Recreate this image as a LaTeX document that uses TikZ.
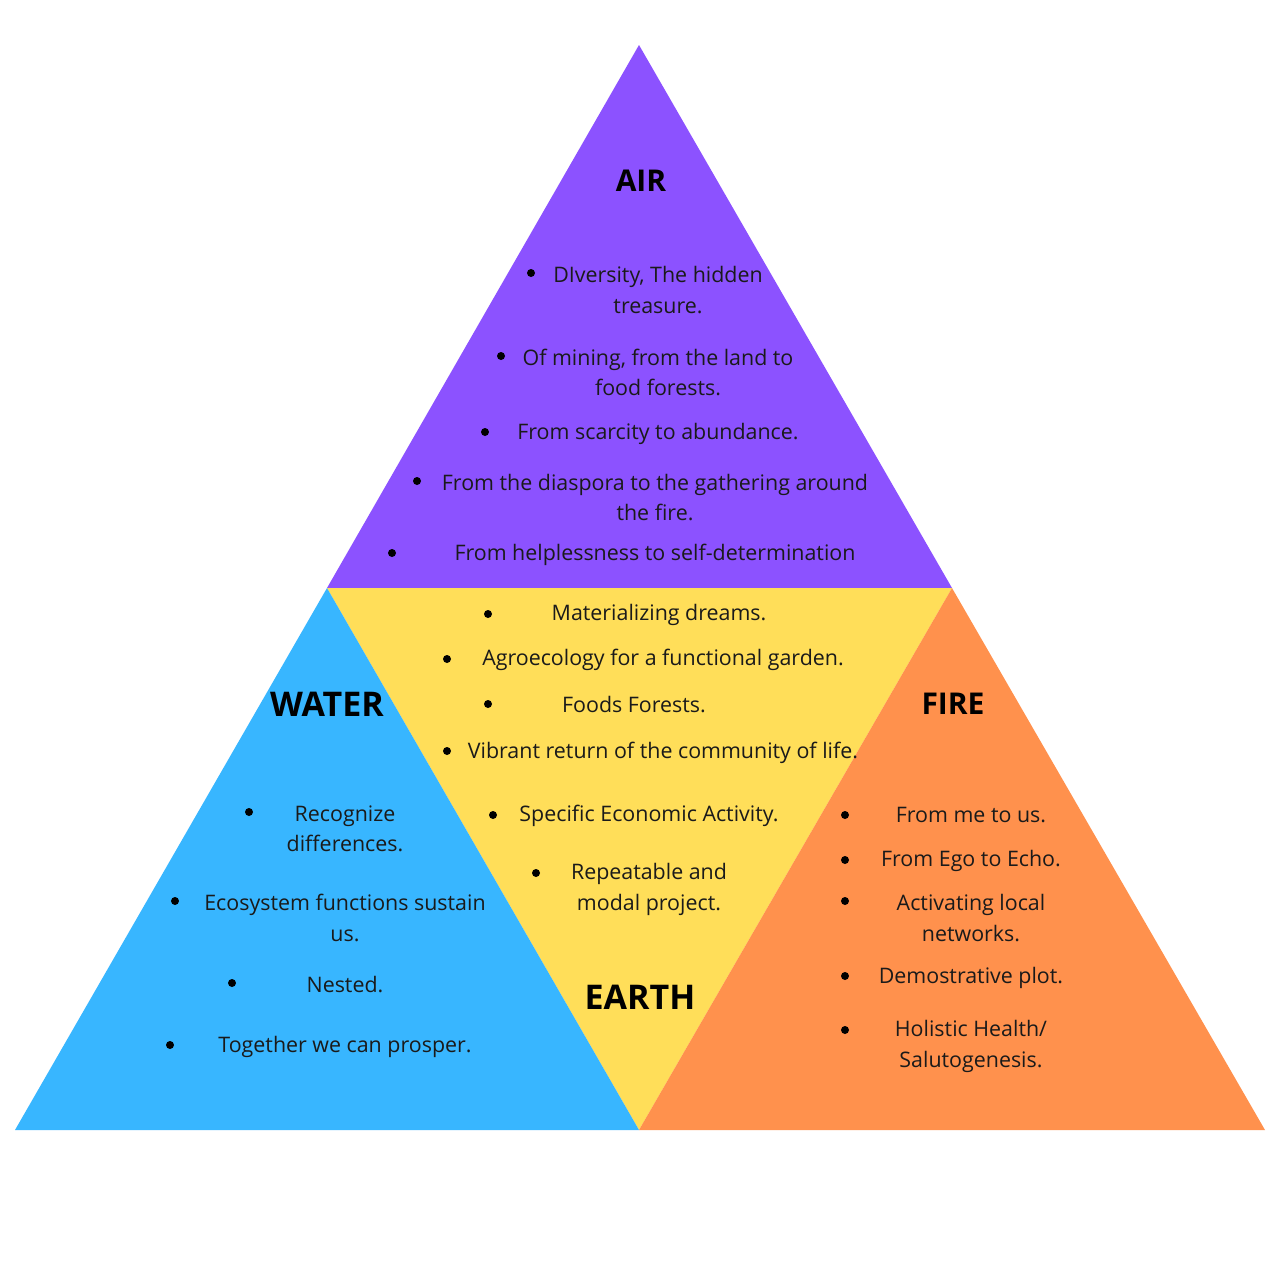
\documentclass[tikz,border=0pt]{standalone}
\usepackage{fontspec}
\setmainfont{Open Sans}
\usepackage{xcolor}
\usetikzlibrary{positioning}

\definecolor{airpurple}{HTML}{8C52FF}
\definecolor{earthyellow}{HTML}{FFDE59}
\definecolor{waterblue}{HTML}{38B6FF}
\definecolor{fireorange}{HTML}{FF914D}
\definecolor{inktext}{HTML}{1A1A1A}

\begin{document}
\begin{tikzpicture}[
            x=1pt, y=-1pt,
            item/.style={align=center, inner sep=0pt, yshift=-1.5pt, text=inktext, font=\fontsize{21.4}{30.5}\selectfont},
            bulletdot/.style={circle, fill=black, inner sep=0pt, minimum size=8pt},
            title/.style={font=\bfseries\fontsize{30}{36}\selectfont, text=black, inner sep=0pt},
            bigtitle/.style={font=\bfseries\fontsize{34}{40}\selectfont, text=black, inner sep=0pt}
        ]

        % --- CANVAS ---
        \useasboundingbox[fill=white] (0,0) rectangle (1280,1280);

        % --- CORNERS ---
        \coordinate (apex) at (639,45);
        \coordinate (bl) at (15,1130);
        \coordinate (br) at (1265,1130);
        \coordinate (ml) at (327,588);
        \coordinate (mr) at (952,588);
        \coordinate (bm) at (639,1130);

        % --- TRIANGLES ---
        \fill[airpurple] (apex) -- (ml) -- (mr) -- cycle;
        \fill[earthyellow] (ml) -- (mr) -- (bm) -- cycle;
        \fill[waterblue] (ml) -- (bm) -- (bl) -- cycle;
        \fill[fireorange] (mr) -- (br) -- (bm) -- cycle;

        % --- TITLES ---
        \node[title] (airT) at (641,181) {AIR};
        \node[bigtitle] (waterT) at (327,704) {WATER};
        \node[title] (fireT) at (953,704) {FIRE};
        \node[bigtitle] (earthT) at (640,997) {EARTH};

        % --- AIR ---
        \foreach \bx/\by/\tx/\ty/\txt [count=\i] in {
                531/273/658/288.5/{DIversity, The hidden\\treasure.},
                501/356/658/371/{Of mining, from the land to\\food forests.},
                485/432/658/432/{From scarcity to abundance.},
                417/481/655/496/{From the diaspora to the gathering around\\the fire.},
                392/553/655/553/{From helplessness to self-determination}} {
                \node[bulletdot] (airB\i) at (\bx,\by) {};
                \node[item] (air\i) at (\tx,\ty) {\txt};
            }

        % --- EARTH ---
        \foreach \bx/\by/\tx/\ty/\txt [count=\i] in {
                488/614/659/613/{Materializing dreams.},
                447/659/663/658/{Agroecology for a functional garden.},
                488/704/634/703/{Foods Forests.},
                447/751/663/751/{Vibrant return of the community of life.},
                493/815/649/814/{Specific Economic Activity.},
                536/873/649/888/{Repeatable and\\modal project.}} {
                \node[bulletdot] (earthB\i) at (\bx,\by) {};
                \node[item] (earth\i) at (\tx,\ty) {\txt};
            }

        % --- WATER ---
        \foreach \bx/\by/\tx/\ty/\txt [count=\i] in {
                249/812/345/827.5/{Recognize\\differences.},
                175/901/345/916.5/{Ecosystem functions sustain\\us.},
                232/983/345/983/{Nested.},
                170/1045/345/1045/{Together we can prosper.}} {
                \node[bulletdot] (waterB\i) at (\bx,\by) {};
                \node[item] (water\i) at (\tx,\ty) {\txt};
            }

        % --- FIRE ---
        \foreach \bx/\by/\tx/\ty/\txt [count=\i] in {
                845/815/971/814/{From me to us.},
                845/860/971/859/{From Ego to Echo.},
                845/901/971/916.5/{Activating local\\networks.},
                845/976/971/976/{Demostrative plot.},
                845/1030/971/1045/{Holistic Health/\\Salutogenesis.}} {
                \node[bulletdot] (fireB\i) at (\bx,\by) {};
                \node[item] (fire\i) at (\tx,\ty) {\txt};
            }

    \end{tikzpicture}
\end{document}
